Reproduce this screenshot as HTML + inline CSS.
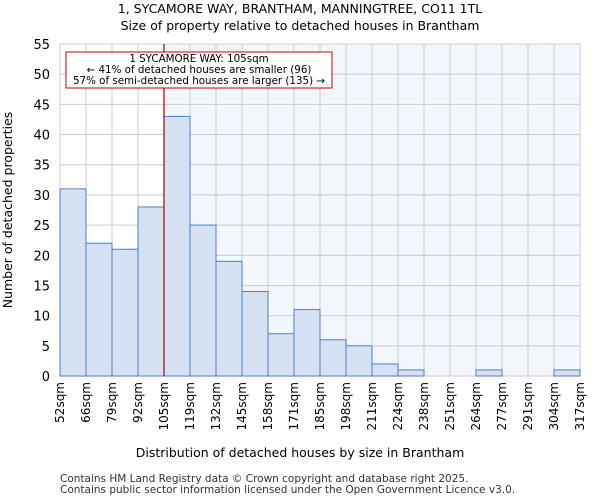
<!DOCTYPE html>
<html><head><meta charset="utf-8"><style>
body{margin:0;background:#fff;font-family:"DejaVu Sans","Liberation Sans",sans-serif}
</style></head><body>
<svg id="chart" width="600" height="500" xmlns="http://www.w3.org/2000/svg" font-family="DejaVu Sans, Liberation Sans, sans-serif">
<text x="300" y="13" text-anchor="middle" font-size="12.5">1, SYCAMORE WAY, BRANTHAM, MANNINGTREE, CO11 1TL</text>
<text x="300" y="30" text-anchor="middle" font-size="12.5">Size of property relative to detached houses in Brantham</text>
<g id="plot"></g>
<text x="300" y="457" text-anchor="middle" font-size="12.5">Distribution of detached houses by size in Brantham</text>
<text transform="translate(12,210) rotate(-90)" text-anchor="middle" font-size="12.5">Number of detached properties</text>
<text x="60" y="482" font-size="10.5" fill="#333">Contains HM Land Registry data © Crown copyright and database right 2025.</text>
<text x="60" y="493" font-size="10.5" fill="#333">Contains public sector information licensed under the Open Government Licence v3.0.</text>
</svg>
<script>
const binLabels=["52sqm","66sqm","79sqm","92sqm","105sqm","119sqm","132sqm","145sqm","158sqm","171sqm","185sqm","198sqm","211sqm","224sqm","238sqm","251sqm","264sqm","277sqm","291sqm","304sqm","317sqm"];
const counts=[31,22,21,28,43,25,19,14,7,11,6,5,2,1,0,0,1,0,0,1];
const yTicks=[0,5,10,15,20,25,30,35,40,45,50,55];
const markerBin=4;
const L=60,R=580,T=44,B=376,yMax=55;
const NS="http://www.w3.org/2000/svg";
const g=document.getElementById('plot');
const bw=(R-L)/counts.length;
const xs=i=>L+i*bw;
const ys=v=>B-(v/yMax)*(B-T);
function mk(t,a){const e=document.createElementNS(NS,t);for(const k in a)e.setAttribute(k,a[k]);g.appendChild(e);return e;}
let e=mk('rect',{x:xs(markerBin),y:T,width:R-xs(markerBin),height:B-T,fill:'#f3f6fd'});


for(let i=0;i<binLabels.length;i++){
 e=mk('line',{x1:xs(i),x2:xs(i),y1:T,y2:B,stroke:'#ccc','stroke-width':1});
 
 
 e=mk('text',{transform:`translate(${xs(i)+4},${B+6}) rotate(-90)`,'text-anchor':'end','font-size':12});
 e.textContent=binLabels[i];
 
 
}
yTicks.forEach(v=>{
 e=mk('line',{x1:L,x2:R,y1:ys(v),y2:ys(v),stroke:'#ccc','stroke-width':1});
 
 
 e=mk('text',{x:L-10,y:ys(v)+5,'text-anchor':'end','font-size':13});
 e.textContent=v;
 
 
});
counts.forEach((c,i)=>{
 if(c<=0)return;
 e=mk('rect',{x:xs(i),y:ys(c),width:bw,height:B-ys(c),fill:'#d6e1f3',stroke:'#4a7fcc','stroke-width':1});
 
 
});
e=mk('line',{x1:xs(markerBin),x2:xs(markerBin),y1:T,y2:B,stroke:'#aa0000','stroke-width':1.2});


e=mk('rect',{x:66,y:52,width:266,height:36,fill:'#fff',stroke:'#cc0000','stroke-width':1});


["1 SYCAMORE WAY: 105sqm","← 41% of detached houses are smaller (96)","57% of semi-detached houses are larger (135) →"].forEach((s,k)=>{
 e=mk('text',{x:199,y:62+k*11,'text-anchor':'middle','font-size':10.3});
 e.textContent=s;
 
 
});
</script>
</body></html>
